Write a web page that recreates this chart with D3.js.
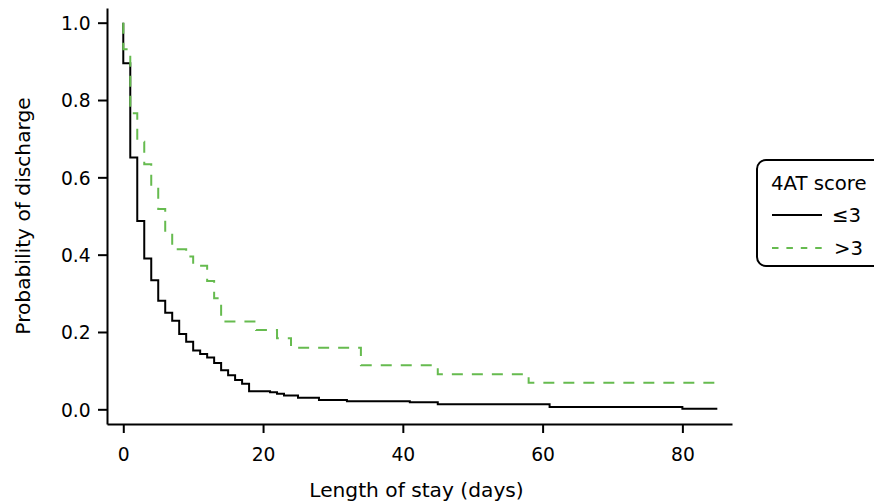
<!DOCTYPE html>
<html>
<head>
<meta charset="utf-8">
<script src="https://cdn.jsdelivr.net/npm/d3@7"></script>
<style>
  html, body { margin: 0; padding: 0; background: #fff; }
  svg { display: block; font-family: "DejaVu Sans", sans-serif; }
</style>
</head>
<body>
<svg id="chart" width="874" height="504"></svg>
<script>
// ---- Data ----
const groupNames = ["\u22643", ">3"];
const lowTimes  = [0, 0, 1, 2, 3, 4, 5, 6, 7, 8, 9, 10, 11, 12, 13, 14, 15, 16, 17, 18, 21, 22, 23, 25, 28, 32, 41, 45, 61, 80, 85];
const lowSurv   = [1.0, 0.895, 0.651, 0.487, 0.39, 0.334, 0.281, 0.25, 0.229, 0.195, 0.175, 0.152, 0.143, 0.134, 0.12, 0.101, 0.088, 0.076, 0.066, 0.047, 0.044, 0.040, 0.036, 0.030, 0.024, 0.021, 0.018, 0.013, 0.006, 0.0015, 0.0015];
const highTimes = [0, 0, 1, 2, 3, 4, 5, 6, 7, 9, 10, 12, 13, 14, 19, 22, 24, 34, 45, 58, 85];
const highSurv  = [1.0, 0.931, 0.766, 0.692, 0.634, 0.576, 0.518, 0.455, 0.414, 0.395, 0.371, 0.332, 0.287, 0.227, 0.205, 0.184, 0.159, 0.114, 0.091, 0.069, 0.069];
const xTicks = [0, 20, 40, 60, 80];
const yTicks = [0.0, 0.2, 0.4, 0.6, 0.8, 1.0];
const xTitle = "Length of stay (days)";
const yTitle = "Probability of discharge";
const legendTitle = "4AT score";

const svg = d3.select("#chart");
const FONT = "'DejaVu Sans', sans-serif";

const x = d3.scaleLinear().domain([-2.33, 87.1]).range([107, 732]);
const y = d3.scaleLinear().domain([-0.038, 1.038]).range([424, 8]);

// axes
const xAxis = d3.axisBottom(x).tickValues(xTicks).tickFormat(d3.format("d")).tickSizeInner(9).tickSizeOuter(0);
const yAxis = d3.axisLeft(y).tickValues(yTicks).tickFormat(d3.format(".1f")).tickSizeInner(9).tickSizeOuter(0);

const gx = svg.append("g").attr("transform", "translate(0,424)").call(xAxis);
const gy = svg.append("g").attr("transform", "translate(107,0)").call(yAxis);
[gx, gy].forEach(g => {
  g.selectAll("path.domain").attr("stroke", "#000").attr("stroke-width", 2);
  g.selectAll(".tick line").attr("stroke", "#000").attr("stroke-width", 2);
  g.selectAll(".tick text").attr("fill", "#000").style("font-size", "18.7px").style("font-family", FONT);
});
gx.selectAll(".tick text").attr("y", 36.7).attr("dy", 0);
gy.selectAll(".tick text").attr("x", -16.3).attr("dy", 6.8);

// curves
const line = d3.line().x(d => x(d[0])).y(d => y(d[1])).curve(d3.curveStepAfter);
const lowData = lowTimes.map((t, i) => [t, lowSurv[i]]);
const highData = highTimes.map((t, i) => [t, highSurv[i]]);

svg.append("path").datum(lowData).attr("d", line)
  .attr("fill", "none").attr("stroke", "#000").attr("stroke-width", 2);
svg.append("path").datum(highData).attr("d", line)
  .attr("fill", "none").attr("stroke", "#66bb4f").attr("stroke-width", 2)
  .attr("stroke-dasharray", "11,9");

// axis titles
svg.append("text").attr("x", 416.5).attr("y", 496.7).attr("text-anchor", "middle")
  .style("font-size", "20.2px").style("font-family", FONT).attr("fill", "#000").text(xTitle);
svg.append("text").attr("transform", "translate(30,216) rotate(-90)").attr("text-anchor", "middle")
  .style("font-size", "20.2px").style("font-family", FONT).attr("fill", "#000").text(yTitle);

// legend
const lg = svg.append("g");
lg.append("rect").attr("x", 757).attr("y", 160).attr("width", 140).attr("height", 106)
  .attr("rx", 9).attr("fill", "#fff").attr("stroke", "#000").attr("stroke-width", 2);
lg.append("text").attr("x", 771).attr("y", 190).style("font-size", "19.7px").style("font-family", FONT)
  .attr("fill", "#000").text(legendTitle);
const legendItems = [
  { name: groupNames[0], color: "#000", dash: null, y: 215, tx: 832 },
  { name: groupNames[1], color: "#66bb4f", dash: "6.5,7.9", y: 248, tx: 834 }
];
legendItems.forEach(it => {
  lg.append("line").attr("x1", 772).attr("x2", 822).attr("y1", it.y).attr("y2", it.y)
    .attr("stroke", it.color).attr("stroke-width", 2).attr("stroke-dasharray", it.dash);
  lg.append("text").attr("x", it.tx).attr("y", it.y).attr("dy", 7)
    .style("font-size", "19.7px").style("font-family", FONT).attr("fill", "#000").text(it.name);
});
</script>
</body>
</html>
